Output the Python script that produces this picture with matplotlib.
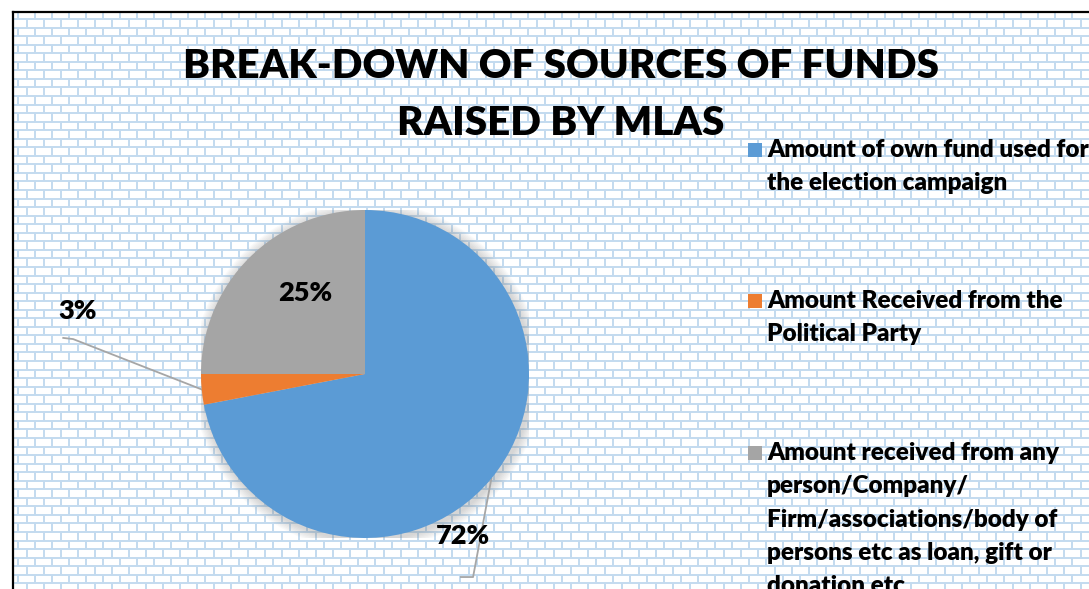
import numpy as np
import matplotlib
matplotlib.use("Agg")
import matplotlib.pyplot as plt
from matplotlib.collections import LineCollection
from matplotlib.patches import Circle, Rectangle

# data
categories = [
    "Amount of own fund used for\nthe election campaign",
    "Amount Received from the\nPolitical Party",
    "Amount received from any\nperson/Company/\nFirm/associations/body of\npersons etc as loan, gift or\ndonation etc",
]
shares = [72, 3, 25]
colors = ["#5B9BD5", "#ED7D31", "#A5A5A5"]
pct_labels = ["72%", "3%", "25%"]
title = "BREAK-DOWN OF SOURCES OF FUNDS\nRAISED BY MLAS"

W, H = 1089, 589
FONT = "Lato"
WEIGHT = "heavy"

fig = plt.figure(figsize=(W / 100, H / 100), dpi=100)
fig.patch.set_facecolor("white")

# background axes in pixel coordinates
bg = fig.add_axes([0, 0, 1, 1])
bg.set_xlim(0, W)
bg.set_ylim(H, 0)
bg.axis("off")

# brick pattern inside the chart frame
x0, y0 = 13, 12
brick_w, brick_h = 17.0, 8.55
first_row = 19
segs = []
ys = np.arange(first_row, H + brick_h, brick_h)
for y in ys:
    segs.append([(x0, y), (W, y)])
row_tops = np.concatenate([[y0], ys])
for i, top in enumerate(row_tops):
    bot = top + brick_h if i > 0 else first_row
    off = 1 if i % 2 == 0 else 1 + brick_w / 2
    for x in np.arange(off, W, brick_w):
        if x > x0:
            segs.append([(x, top), (x, bot)])
bg.add_collection(LineCollection(segs, colors="#C3DAEF", linewidths=1.4, zorder=1))

# frame
bg.plot([x0, x0], [y0, H], color="black", lw=1.6, solid_capstyle="projecting", zorder=2)
bg.plot([x0, W], [y0, y0], color="black", lw=1.6, solid_capstyle="projecting", zorder=2)

# title
bg.text(561, 95, title, ha="center", va="center", fontsize=29, fontweight=WEIGHT,
        family=FONT, linespacing=1.66, zorder=3)

# pie
cx, cy, r = 365, 374, 164
ax = fig.add_axes([(cx - r) / W, (H - cy - r) / H, 2 * r / W, 2 * r / H])
for k in range(8):
    ax.add_patch(Circle((0.012, -0.012), 1.0 + 0.008 * (k + 1), color="#808080",
                        alpha=0.045, lw=0, zorder=0))
wedges, _ = ax.pie(shares, colors=colors, startangle=90, counterclock=False,
                   radius=1, wedgeprops=dict(linewidth=0))
for w in wedges:
    w.set_zorder(2)
ax.set_xlim(-1, 1)
ax.set_ylim(-1, 1)
ax.axis("off")

# data labels (label positions in pie units) and leader lines
label_pos = [(0.595, -0.985), (-1.755, 0.385), (-0.365, 0.495)]
elbows = [[(0.659, -1.238), (0.585, -1.238)], [(-1.78, 0.213), (-1.84, 0.22)], None]
for w, lab, pos, elb in zip(wedges, pct_labels, label_pos, elbows):
    ax.text(pos[0], pos[1], lab, ha="center", va="center", fontsize=19.5,
            fontweight=WEIGHT, family=FONT, zorder=5, clip_on=False)
    if elb is not None:
        mid = np.deg2rad((w.theta1 + w.theta2) / 2)
        xs = [np.cos(mid)] + [p[0] for p in elb]
        ys_ = [np.sin(mid)] + [p[1] for p in elb]
        ax.plot(xs, ys_, color="#A6A6A6", lw=1.3, clip_on=False, zorder=1)

# legend
leg_y = [150, 301, 453]
for cat, col, y in zip(categories, colors, leg_y):
    bg.add_patch(Rectangle((748, y - 7), 14, 14, color=col, lw=0, zorder=3))
    bg.text(767, y - 11, cat, ha="left", va="top", fontsize=17.5, fontweight=WEIGHT,
            family=FONT, linespacing=1.63, zorder=3)

fig.savefig("out.png", dpi=100)
